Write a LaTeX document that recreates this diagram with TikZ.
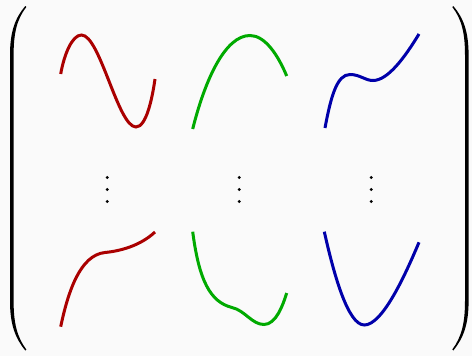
\documentclass[tikz,border=0pt]{standalone}
\usepackage{xcolor}
\definecolor{bgray}{HTML}{FAFAFA}
\definecolor{cred}{RGB}{170,0,0}
\definecolor{cgreen}{RGB}{0,170,0}
\definecolor{cblue}{RGB}{0,0,170}
\begin{document}
\begin{tikzpicture}[x=1pt,y=-1pt,curve/.style={line width=3pt}]
  \fill[bgray] (0,0) rectangle (472,356);
  \useasboundingbox (0,0) rectangle (472,356);
  % parentheses
  \fill (25.3,6) .. controls (15,18) and (10,32) .. (10,55) -- (10,301)
    .. controls (10,324) and (15,338) .. (25.3,350.5)
    -- (26.3,349.5) .. controls (17,337) and (13.6,323) .. (13.6,301) -- (13.6,55)
    .. controls (13.6,33) and (17,19) .. (26.3,7) -- cycle;
  \fill[xscale=-1,xshift=-478.6] (25.3,6) .. controls (15,18) and (10,32) .. (10,55) -- (10,301)
    .. controls (10,324) and (15,338) .. (25.3,350.5)
    -- (26.3,349.5) .. controls (17,337) and (13.6,323) .. (13.6,301) -- (13.6,55)
    .. controls (13.6,33) and (17,19) .. (26.3,7) -- cycle;
  % first column
  \draw[curve,cred] (60.7,74) .. controls (64,55) and (72,35) .. (81.5,35)
    .. controls (100,35) and (118,127) .. (136,127)
    .. controls (146,127) and (152,100) .. (155,79);
  \draw[curve,cred] (60.7,326.7) .. controls (68,292) and (80,255) .. (105,252.5)
    .. controls (120,251) and (140,246) .. (155,232);
  % second column
  \draw[curve,cgreen] (192.7,129) .. controls (205,80) and (225,35.5) .. (250,35.5)
    .. controls (265,35.5) and (278,55) .. (286.7,76);
  \draw[curve,cgreen] (192.7,231.7) .. controls (199,280) and (210,302) .. (232,307.5)
    .. controls (245,310.5) and (252,324.5) .. (264,324.5)
    .. controls (276,324.5) and (283,305) .. (286.7,293);
  % third column
  \draw[curve,cblue] (325,128) .. controls (331,96) and (337,74.5) .. (350,74.5)
    .. controls (360,74.5) and (365,80.5) .. (373,80.5)
    .. controls (388,80.5) and (405,57) .. (419,34);
  \draw[curve,cblue] (324.3,231.7) .. controls (334,275) and (348,325) .. (364.3,325)
    .. controls (382,325) and (404,278) .. (419,242.3);
  % vertical dots
  \foreach \x in {107.3,239.3,371.3}
    \foreach \y in {177.5,189.5,201.5}
      \fill (\x,\y) circle (1.6);
\end{tikzpicture}
\end{document}
